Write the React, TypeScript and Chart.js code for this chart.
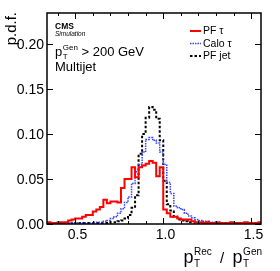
import React, { useEffect, useRef } from "react";
import { Chart, registerables } from "chart.js";
Chart.register(...registerables);

// Histogram binning (bin low edge of first bin, bin width)
const binLow = 0.34;
const binWidth = 0.02;

// PF tau response (bins centred 0.35 ... 1.55)
const pfTau = [
  0.002, 0.001, 0.001, 0.002, 0.002, 0.002, 0.004, 0.005, 0.006, 0.006,
  0.008, 0.010, 0.010, 0.014, 0.016, 0.019, 0.027, 0.023, 0.025, 0.025,
  0.024, 0.040, 0.050, 0.050, 0.063, 0.052, 0.063, 0.065, 0.067, 0.070,
  0.068, 0.053, 0.063, 0.016, 0.012, 0.008, 0.008, 0.006, 0.005, 0.005,
  0.005, 0.003, 0.002, 0.002, 0.001, 0.002, 0.001, 0.001, 0.002, 0.001,
  0.001, 0.001, 0.002, 0.001, 0.001, 0.001, 0.002, 0.001, 0.001, 0.001,
  0.002,
];

// Calo tau response
const caloTau = [
  0.000, 0.000, 0.001, 0.000, 0.001, 0.001, 0.001, 0.001, 0.001, 0.001,
  0.001, 0.001, 0.001, 0.002, 0.002, 0.002, 0.003, 0.004, 0.006, 0.008,
  0.012, 0.017, 0.024, 0.030, 0.045, 0.058, 0.066, 0.080, 0.094, 0.096,
  0.093, 0.090, 0.080, 0.066, 0.046, 0.034, 0.020, 0.018, 0.016, 0.012,
  0.009, 0.007, 0.005, 0.004, 0.003, 0.003, 0.002, 0.002, 0.001, 0.001,
  0.001, 0.001, 0.001, 0.001, 0.000, 0.001, 0.001, 0.000, 0.001, 0.000,
  0.000,
];

// PF jet response
const pfJet = [
  0.000, 0.000, 0.000, 0.001, 0.000, 0.000, 0.001, 0.000, 0.001, 0.001,
  0.001, 0.001, 0.001, 0.001, 0.001, 0.001, 0.001, 0.001, 0.002, 0.002,
  0.003, 0.004, 0.006, 0.010, 0.018, 0.032, 0.078, 0.100, 0.118, 0.130,
  0.127, 0.117, 0.093, 0.048, 0.022, 0.015, 0.008, 0.005, 0.004, 0.003,
  0.002, 0.002, 0.001, 0.001, 0.001, 0.000, 0.001, 0.000, 0.000, 0.001,
  0.000, 0.000, 0.000, 0.000, 0.001, 0.000, 0.000, 0.000, 0.000, 0.000,
  0.000,
];

const xMin = 0.34;
const xMax = 1.555;
const yMin = 0;
const yMax = 0.2344;

const yTicks = [0, 0.05, 0.1, 0.15, 0.2];
const yTickLabels = ["0.00", "0.05", "0.10", "0.15", "0.20"];
const xMajorTicks = [0.5, 1.0, 1.5];
const xTickLabels = ["0.5", "1.0", "1.5"];
const xMinorTicks = [0.4, 0.6, 0.7, 0.8, 0.9, 1.1, 1.2, 1.3, 1.4];

const legendLabels = ["PF τ", "Calo τ", "PF jet"];
const FONT = '"Liberation Sans", Arial, Helvetica, sans-serif';

function toSteps(vals: number[]) {
  const pts = vals.map((v, i) => ({ x: binLow + i * binWidth, y: v }));
  pts.push({ x: binLow + vals.length * binWidth, y: vals[vals.length - 1] });
  return pts;
}

function drawPT(
  ctx: CanvasRenderingContext2D,
  x: number,
  y: number,
  sup: string,
  big: number,
  small: number,
  supDy: number,
  subDy: number,
  measureOnly = false
) {
  ctx.font = `${big}px ${FONT}`;
  const wp = ctx.measureText("p").width;
  ctx.font = `${small}px ${FONT}`;
  const wSup = ctx.measureText(sup).width;
  const wSub = ctx.measureText("T").width;
  if (!measureOnly) {
    ctx.font = `${big}px ${FONT}`;
    ctx.fillText("p", x, y);
    ctx.font = `${small}px ${FONT}`;
    ctx.fillText(sup, x + wp + 0.5, y - supDy);
    ctx.fillText("T", x + wp + 0.5, y + subDy);
  }
  return wp + 0.5 + Math.max(wSup, wSub);
}

const decor = {
  id: "decor",
  afterDraw(chart: any) {
    const ctx: CanvasRenderingContext2D = chart.ctx;
    const { left, right, top, bottom } = chart.chartArea;
    const xs = chart.scales.x;
    const ys = chart.scales.y;
    ctx.save();
    ctx.strokeStyle = "#000";
    ctx.fillStyle = "#000";
    ctx.lineWidth = 1.5;
    ctx.strokeRect(left, top, right - left, bottom - top);

    // y ticks (inside, left and right)
    ctx.lineWidth = 1;
    ctx.font = `14px ${FONT}`;
    ctx.textAlign = "right";
    ctx.textBaseline = "middle";
    yTicks.forEach((v, i) => {
      const py = Math.round(ys.getPixelForValue(v)) + 0.5;
      ctx.beginPath();
      ctx.moveTo(left, py);
      ctx.lineTo(left + 6, py);
      ctx.moveTo(right, py);
      ctx.lineTo(right - 6, py);
      ctx.stroke();
      ctx.fillText(yTickLabels[i], left - 3, py + 1);
    });

    // x ticks (inside, bottom and top)
    ctx.textAlign = "center";
    ctx.textBaseline = "alphabetic";
    xMajorTicks.forEach((v, i) => {
      const px = Math.round(xs.getPixelForValue(v)) + 0.5;
      ctx.beginPath();
      ctx.moveTo(px, bottom);
      ctx.lineTo(px, bottom - 6);
      ctx.moveTo(px, top);
      ctx.lineTo(px, top + 6);
      ctx.stroke();
      ctx.fillText(xTickLabels[i], px + 2, bottom + 15);
    });
    xMinorTicks.forEach((v) => {
      const px = Math.round(xs.getPixelForValue(v)) + 0.5;
      ctx.beginPath();
      ctx.moveTo(px, bottom);
      ctx.lineTo(px, bottom - 3);
      ctx.moveTo(px, top);
      ctx.lineTo(px, top + 3);
      ctx.stroke();
    });

    // y axis title
    ctx.save();
    ctx.translate(16, 12);
    ctx.rotate(-Math.PI / 2);
    ctx.font = `15px ${FONT}`;
    ctx.textAlign = "right";
    ctx.textBaseline = "alphabetic";
    ctx.fillText("p.d.f.", 0, 0);
    ctx.restore();

    // x axis title: pT^Rec / pT^Gen (right aligned)
    ctx.textAlign = "left";
    ctx.textBaseline = "alphabetic";
    const base = 263;
    const w1 = drawPT(ctx, 0, 0, "Rec", 18, 10, 8, 4, true);
    ctx.font = `15px ${FONT}`;
    const slash = "  /  ";
    const ws = ctx.measureText(slash).width;
    const w2 = drawPT(ctx, 0, 0, "Gen", 18, 10, 8, 4, true);
    let xx = right + 1 - (w1 + ws + w2);
    drawPT(ctx, xx, base, "Rec", 18, 10, 8, 4);
    xx += w1;
    ctx.font = `15px ${FONT}`;
    ctx.fillText(slash, xx, base);
    xx += ws;
    drawPT(ctx, xx, base, "Gen", 18, 10, 8, 4);

    // CMS labels
    ctx.font = `bold 8.5px ${FONT}`;
    ctx.fillText("CMS", 55, 28.5);
    ctx.font = `italic 6.5px ${FONT}`;
    ctx.fillText("Simulation", 55, 36);
    const wpt = drawPT(ctx, 55, 55.5, "Gen", 13, 8, 6, 3.5);
    ctx.font = `13px ${FONT}`;
    ctx.fillText(" > 200 GeV", 55 + wpt, 55.5);
    ctx.fillText("Multijet", 55, 71);

    // legend
    const ly = [31, 43.5, 56];
    const styles = [
      { c: "#ff0000", d: [] as number[], w: 2 },
      { c: "#3344ff", d: [1.5, 1], w: 1.5 },
      { c: "#000000", d: [2.5, 2], w: 2 },
    ];
    ctx.font = `10.5px ${FONT}`;
    ctx.textBaseline = "middle";
    legendLabels.forEach((lab, i) => {
      const s = styles[i];
      ctx.beginPath();
      ctx.strokeStyle = s.c;
      ctx.lineWidth = s.w;
      ctx.setLineDash(s.d);
      ctx.moveTo(190, ly[i]);
      ctx.lineTo(201, ly[i]);
      ctx.stroke();
      ctx.setLineDash([]);
      ctx.fillStyle = "#000";
      ctx.fillText(lab, 203, ly[i] + 0.5);
    });
    ctx.restore();
  },
};

export default function App() {
  const ref = useRef<HTMLCanvasElement>(null);
  useEffect(() => {
    const canvas = ref.current!;
    const chart = new Chart(canvas, {
      type: "line",
      data: {
        datasets: [
          {
            label: legendLabels[0],
            data: toSteps(pfTau),
            borderColor: "#ff0000",
            borderWidth: 2,
            stepped: "before",
            pointRadius: 0,
            fill: false,
          },
          {
            label: legendLabels[1],
            data: toSteps(caloTau),
            borderColor: "#3344ff",
            borderWidth: 1.5,
            borderDash: [1.5, 1],
            stepped: "before",
            pointRadius: 0,
            fill: false,
          },
          {
            label: legendLabels[2],
            data: toSteps(pfJet),
            borderColor: "#000000",
            borderWidth: 2,
            borderDash: [2.5, 2],
            stepped: "before",
            pointRadius: 0,
            fill: false,
          },
        ],
      } as any,
      options: {
        responsive: false,
        animation: false,
        events: [],
        layout: { padding: { left: 47, top: 13, right: 19, bottom: 47 } },
        plugins: { legend: { display: false }, tooltip: { enabled: false } },
        scales: {
          x: { type: "linear", min: xMin, max: xMax, display: false },
          y: { type: "linear", min: yMin, max: yMax, display: false },
        },
      } as any,
      plugins: [decor],
    });
    return () => chart.destroy();
  }, []);
  return (
    <div style={{ position: "absolute", left: 0, top: 0, width: 280, height: 271, background: "#fff" }}>
      <canvas ref={ref} width={280} height={271} style={{ display: "block" }} />
    </div>
  );
}
